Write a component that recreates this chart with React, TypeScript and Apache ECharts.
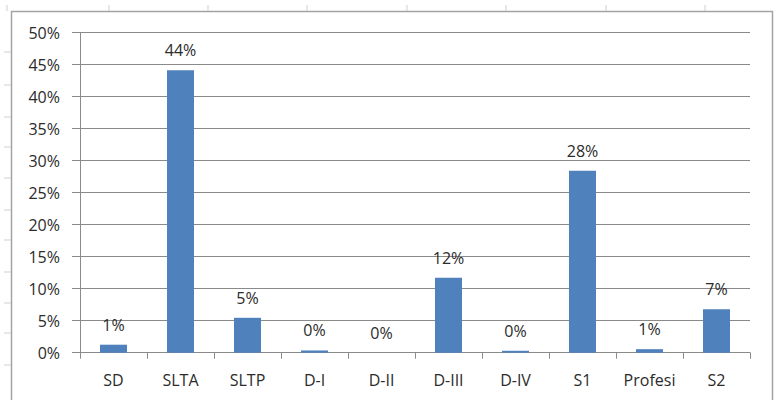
import React, { useEffect, useRef } from "react";
import * as echarts from "echarts";

const categories = ["SD", "SLTA", "SLTP", "D-I", "D-II", "D-III", "D-IV", "S1", "Profesi", "S2"];
const percentages = [1.25, 44.1, 5.45, 0.35, 0, 11.7, 0.3, 28.4, 0.55, 6.8];
const yTicks = { min: 0, max: 50, interval: 5 };

const FONT = "Open Sans";
const TEXT = "#2b2b2b";
const GRID = "#8a8a8a";

export default function App() {
  const ref = useRef<HTMLDivElement>(null);
  useEffect(() => {
    if (!ref.current) return;
    const chart = echarts.init(ref.current, undefined, { renderer: "svg" });
    const topMarks = [7, 109, 208, 307, 407, 506, 606, 705];
    const leftMarks = [52, 85, 117, 147, 178, 210, 240, 272, 303, 333, 365];
    const graphic: any[] = [
      {
        type: "rect",
        shape: { x: 11.5, y: 11.5, width: 761, height: 400 },
        style: { fill: "none", stroke: "#a3a3a3", lineWidth: 1.5 },
        silent: true,
        z: -1,
      },
      ...topMarks.map((x) => ({
        type: "line",
        shape: { x1: x, y1: 5, x2: x, y2: 11 },
        style: { stroke: "#cfcfcf", lineWidth: 1 },
        silent: true,
      })),
      ...leftMarks.map((y) => ({
        type: "line",
        shape: { x1: 4, y1: y, x2: 11, y2: y },
        style: { stroke: "#cfcfcf", lineWidth: 1 },
        silent: true,
      })),
    ];
    chart.setOption({
      animation: false,
      backgroundColor: "#ffffff",
      graphic,
      grid: { left: 80, right: 24, top: 32.5, bottom: 47.3, containLabel: false },
      xAxis: {
        type: "category",
        data: categories,
        boundaryGap: true,
        axisLine: { show: true, lineStyle: { color: GRID, width: 1 } },
        axisTick: { show: true, alignWithLabel: false, length: 6, lineStyle: { color: GRID } },
        axisLabel: { interval: 0, margin: 19, color: TEXT, fontFamily: FONT, fontSize: 16 },
        splitLine: { show: false },
      },
      yAxis: {
        type: "value",
        min: yTicks.min,
        max: yTicks.max,
        interval: yTicks.interval,
        axisLine: { show: true, lineStyle: { color: GRID, width: 1 } },
        axisTick: { show: true, length: 8, lineStyle: { color: GRID } },
        axisLabel: { formatter: "{value}%", margin: 20, color: TEXT, fontFamily: FONT, fontSize: 16 },
        splitLine: { show: true, lineStyle: { color: GRID, width: 1 } },
      },
      series: [
        {
          type: "bar",
          data: percentages,
          barWidth: 27,
          itemStyle: { color: "#4F81BD" },
          label: {
            show: true,
            position: "top",
            distance: 12,
            color: TEXT,
            fontFamily: FONT,
            fontSize: 16,
            formatter: (p: any) => Math.round(p.value) + "%",
          },
        },
      ],
    });
    return () => chart.dispose();
  }, []);
  return (
    <div
      ref={ref}
      style={{ position: "fixed", left: 0, top: 0, width: 774, height: 400, background: "#fff" }}
    />
  );
}
